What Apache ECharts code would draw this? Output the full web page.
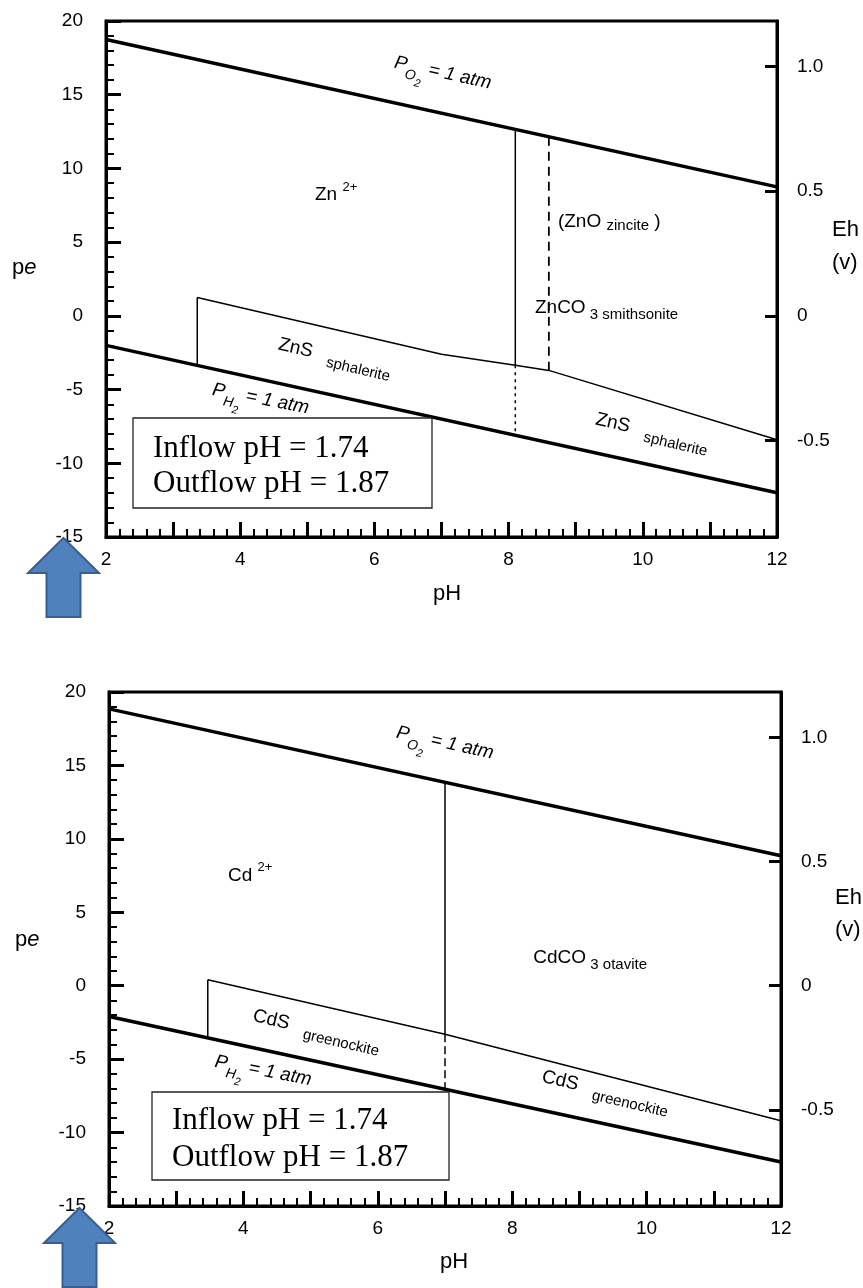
<!DOCTYPE html>
<html><head><meta charset="utf-8">
<script src="https://cdn.jsdelivr.net/npm/echarts@6/dist/echarts.min.js"></script>
<style>html,body{margin:0;padding:0;background:#fff}#c{width:863px;height:1288px}</style>
</head><body><div id="c"></div>
<script>
// ---------------- data ----------------
const phRange = [2, 12];
const peRange = [-15, 20];
const ehTicks = [-0.5, 0, 0.5, 1.0];
const EH_PER_PE = 0.05916;

// Zn diagram (pH, pe)
const znO2 = [[2, 18.75], [12, 8.75]];
const znH2 = [[2, -2.0], [12, -12.0]];
const znZnSTop = [[3.36, 1.25], [7.0, -2.6], [8.1, -3.35], [8.6, -3.7], [12, -8.4]];
const znZnSLeft = [[3.36, 1.25], [3.36, -3.36]];
const znCarbSolid = [[8.1, 12.65], [8.1, -3.35]];
const znCarbDotted = [[8.1, -3.35], [8.1, -8.1]];
const znZincite = [[8.6, 12.15], [8.6, -3.7]];

// Cd diagram (pH, pe)
const cdO2 = [[2, 18.85], [12, 8.85]];
const cdH2 = [[2, -2.1], [12, -12.0]];
const cdCdSTop = [[3.47, 0.4], [7.0, -3.3], [12, -9.2]];
const cdCdSLeft = [[3.47, 0.4], [3.47, -3.55]];
const cdCarbSolid = [[7.0, 13.85], [7.0, -3.3]];
const cdCarbDashed = [[7.0, -3.3], [7.0, -7.03]];

// labels: anchor (pH, pe), rotation (deg), rich text
const znLabels = [
  {at: [6.98, 15.65], rot: -12.4, text: '{i|P}{so|O}{ss|2}{i| = 1 atm}'},
  {at: [5.43, 7.34], rot: 0, text: '{m|Zn }{sup|2+}'},
  {at: [9.50, 5.51], rot: 0, text: '{m|(ZnO }{s4|zincite}{m| )}'},
  {at: [9.46, -0.31], rot: 0, text: '{m|ZnCO}{s| 3 smithsonite}'},
  {at: [5.37, -3.63], rot: -13, text: '{m|ZnS   }{s|sphalerite}'},
  {at: [4.27, -6.47], rot: -11, text: '{i|P}{so|H}{ss|2}{i| = 1 atm}'},
  {at: [10.1, -8.71], rot: -13, text: '{m|ZnS   }{s|sphalerite}'}
];
const cdLabels = [
  {at: [6.96, 15.70], rot: -12.4, text: '{i|P}{so|O}{ss|2}{i| = 1 atm}'},
  {at: [4.10, 6.65], rot: 0, text: '{m|Cd }{sup|2+}'},
  {at: [9.16, 1.07], rot: 0, text: '{m|CdCO}{s| 3 otavite}'},
  {at: [5.05, -3.87], rot: -13, text: '{m|CdS   }{s|greenockite}'},
  {at: [4.26, -6.63], rot: -11, text: '{i|P}{so|H}{ss|2}{i| = 1 atm}'},
  {at: [9.35, -8.02], rot: -13, text: '{m|CdS   }{s|greenockite}'}
];
const boxLines = ['Inflow pH = 1.74', 'Outflow pH = 1.87'];

// ---------------- chart ----------------
const SANS = '"Liberation Sans", Arial, Helvetica, sans-serif';
const SERIF = '"Liberation Serif", "Times New Roman", serif';
const INK = '#000';
const base = {fontFamily: SANS, color: INK, verticalAlign: 'bottom', textBorderWidth: 0, textShadowBlur: 0};
const rich = {
  m: {...base, fontSize: 19, lineHeight: 22, padding: [0, 0, 14, 0]},
  i: {...base, fontSize: 19, lineHeight: 22, padding: [0, 0, 14, 0], fontStyle: 'italic'},
  s: {...base, fontSize: 15, lineHeight: 16, padding: [0, 0, 9, 0]},
  s4: {...base, fontSize: 15, lineHeight: 16, padding: [0, 0, 12, 0]},
  so: {...base, fontSize: 14, lineHeight: 15, padding: [0, 0, 7, 0], fontStyle: 'italic'},
  ss: {...base, fontSize: 11, lineHeight: 12, padding: [0, 0, 2, 0], fontStyle: 'italic'},
  sup: {...base, fontSize: 13, lineHeight: 15, padding: [0, 0, 25, 0]}
};

const grids = [
  {left: 106, top: 21, width: 671, height: 516},
  {left: 109, top: 692, width: 672, height: 514}
];

const tickFont = {fontSize: 19, color: '#000', fontFamily: SANS};

function xAxisFor(g) {
  return {
    type: 'value', gridIndex: g, min: phRange[0], max: phRange[1], interval: 1,
    axisLine: {show: true, onZero: false, lineStyle: {color: '#000', width: 3}},
    axisTick: {show: true, inside: true, length: 15, lineStyle: {color: '#000', width: 3}},
    minorTick: {show: true, splitNumber: 5, length: 8, lineStyle: {color: '#000', width: 2}},
    axisLabel: {...tickFont, margin: 13,
      formatter: v => (Math.round(v) % 2 === 0 ? String(v) : '')},
    splitLine: {show: false}, minorSplitLine: {show: false}
  };
}
function peAxisFor(g) {
  return {
    type: 'value', gridIndex: g, position: 'left', min: peRange[0], max: peRange[1], interval: 5,
    axisLine: {show: true, onZero: false, lineStyle: {color: '#000', width: 3}},
    axisTick: {show: true, inside: true, length: 15, lineStyle: {color: '#000', width: 3}},
    minorTick: {show: true, splitNumber: 5, length: 8, lineStyle: {color: '#000', width: 2}},
    axisLabel: {...tickFont, margin: 23},
    splitLine: {show: false}
  };
}
function ehAxisFor(g) {
  return {
    type: 'value', gridIndex: g, position: 'right',
    min: peRange[0] * EH_PER_PE, max: peRange[1] * EH_PER_PE,
    axisLine: {show: true, onZero: false, lineStyle: {color: '#000', width: 3}},
    axisTick: {show: true, inside: true, length: 12, lineStyle: {color: '#000', width: 3}, customValues: ehTicks},
    axisLabel: {...tickFont, margin: 20, customValues: ehTicks,
      formatter: v => (v === 1 ? '1.0' : String(v))},
    splitLine: {show: false}
  };
}

function line(g, data, width, type) {
  return {
    type: 'line', xAxisIndex: g, yAxisIndex: g * 2, data: data, symbol: 'none', silent: true,
    lineStyle: {color: '#000', width: width, type: type || 'solid'}, z: 3
  };
}
function labels(g, arr) {
  return {
    type: 'scatter', xAxisIndex: g, yAxisIndex: g * 2, symbolSize: 0, silent: true, z: 4,
    itemStyle: {color: '#000', opacity: 0},
    data: arr.map(d => ({
      value: d.at,
      label: {show: true, position: 'inside', rotate: d.rot, formatter: d.text, rich: rich,
        color: '#000', textBorderWidth: 0, textBorderColor: 'transparent', opacity: 1}
    }))
  };
}

const series = [
  line(0, znO2, 3.5), line(0, znH2, 3.5),
  line(0, znZnSTop, 1.5), line(0, znZnSLeft, 1.5),
  line(0, znCarbSolid, 1.5), line(0, znCarbDotted, 1.5, [3, 4]),
  line(0, znZincite, 1.8, [9, 6]),
  labels(0, znLabels),
  line(1, cdO2, 3.5), line(1, cdH2, 3.5),
  line(1, cdCdSTop, 1.5), line(1, cdCdSLeft, 1.5),
  line(1, cdCarbSolid, 1.5), line(1, cdCarbDashed, 1.5, [8, 4]),
  labels(1, cdLabels)
];

function arrow(cx, tipY, headHalf, headBaseY, shaftHalf, bottomY) {
  return {
    type: 'polygon', z: 100,
    shape: {points: [[cx, tipY], [cx + headHalf, headBaseY], [cx + shaftHalf, headBaseY],
      [cx + shaftHalf, bottomY], [cx - shaftHalf, bottomY], [cx - shaftHalf, headBaseY],
      [cx - headHalf, headBaseY]]},
    style: {fill: '#4F81BD', stroke: '#3A5F8F', lineWidth: 2}
  };
}
function box(x, y, w, h, tx, ty1, ty2) {
  return [
    {type: 'rect', z: 100, shape: {x: x, y: y, width: w, height: h},
      style: {fill: '#fff', stroke: '#222', lineWidth: 1.3}},
    {type: 'text', z: 101, x: tx, y: ty1, style: {text: boxLines[0], font: '31px ' + SERIF, fill: '#000', verticalAlign: 'middle'}},
    {type: 'text', z: 101, x: tx, y: ty2, style: {text: boxLines[1], font: '31px ' + SERIF, fill: '#000', verticalAlign: 'middle'}}
  ];
}
function axisName(x, y, text, r) {
  return {type: 'text', z: 50, x: x, y: y,
    style: {text: text, rich: r, font: '22px ' + SANS, fill: '#000', verticalAlign: 'middle'}};
}
const nameRich = {a: {fontSize: 22, fontFamily: SANS, color: '#000'},
                  b: {fontSize: 22, fontFamily: SANS, color: '#000', fontStyle: 'italic'}};

const graphic = [
  arrow(63.5, 538, 35.5, 573, 17, 617),
  arrow(79.5, 1208, 35.5, 1243, 17, 1287),
  ...box(133, 418, 299, 90, 153, 448.5, 483.5),
  ...box(152, 1092, 297, 88, 172, 1120.5, 1157.5),
  axisName(12, 268, '{a|p}{b|e}', nameRich),
  axisName(15, 940, '{a|p}{b|e}', nameRich),
  axisName(433, 594, 'pH'),
  axisName(440, 1262, 'pH'),
  axisName(832, 230, 'Eh'), axisName(832, 263, '(v)'),
  axisName(835, 898, 'Eh'), axisName(835, 930, '(v)')
];

const chart = echarts.init(document.getElementById('c'), null, {renderer: 'canvas'});
chart.setOption({
  animation: false,
  backgroundColor: '#fff',
  grid: grids.map(g => ({...g, show: true, borderColor: '#000', borderWidth: 3, backgroundColor: 'transparent'})),
  xAxis: [xAxisFor(0), xAxisFor(1)],
  yAxis: [peAxisFor(0), ehAxisFor(0), peAxisFor(1), ehAxisFor(1)],
  series: series,
  graphic: graphic
});
</script>
</body></html>
